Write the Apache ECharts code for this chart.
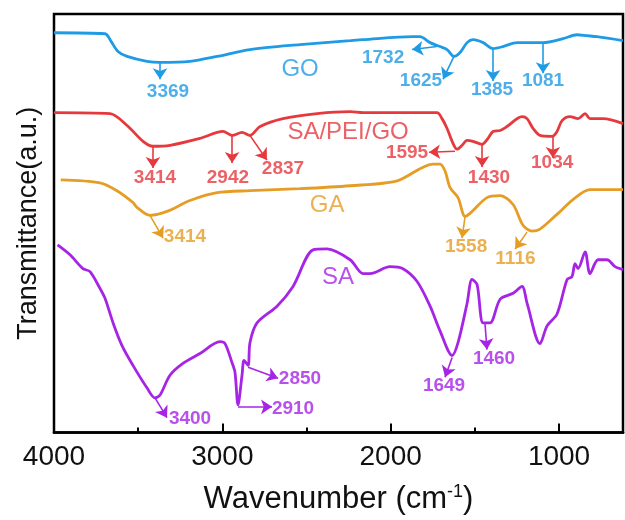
<!DOCTYPE html>
<html>
<head>
<meta charset="utf-8">
<script src="https://cdn.jsdelivr.net/npm/echarts@6/dist/echarts.min.js"></script>
<style>
  html, body { margin: 0; padding: 0; background: #fff; }
  #main { width: 625px; height: 520px; }
</style>
</head>
<body>
<div id="main"></div>
<script>
// wavenumber (cm-1) and transmittance (a.u.)
var goWn = [4000, 3697, 3660, 3620, 3566, 3447, 3370, 3192, 3032, 2836, 2539, 2241, 2164, 1867, 1826, 1766, 1707, 1665, 1624, 1588, 1546, 1511, 1451, 1392, 1333, 1249, 1172, 1095, 976, 893, 834, 774, 620];
var goT  = [405, 404, 396, 386, 381, 376, 375, 376, 381, 388, 393, 397, 398, 401, 401, 395, 391, 388, 381, 385, 395, 398, 395, 389, 391, 395, 395, 395, 399, 403, 402, 401, 397];

var spgWn = [4000, 3667, 3566, 3471, 3412, 3311, 3133, 2996, 2942, 2883, 2836, 2776, 2640, 2437, 2241, 2164, 1725, 1695, 1665, 1635, 1606, 1576, 1546, 1511, 1457, 1422, 1392, 1350, 1309, 1220, 1190, 1154, 1113, 1041, 1012, 982, 934, 887, 845, 816, 738, 620];
var spgT  = [324, 323, 311, 295, 290, 291, 298, 305, 301, 304, 301, 310, 318, 323, 325, 324, 324, 318, 308, 295, 287, 291, 296, 295, 292, 298, 305, 306, 310, 320, 318, 308, 301, 300, 305, 316, 320, 318, 323, 318, 318, 313];

var gaWn = [3960, 3727, 3626, 3531, 3507, 3430, 3329, 3192, 3032, 2836, 2539, 2241, 1962, 1748, 1707, 1677, 1647, 1600, 1558, 1529, 1428, 1350, 1273, 1214, 1160, 1113, 1012, 917, 816, 620];
var gaT  = [256, 253, 245, 233, 228, 220, 224, 235, 243, 245, 247, 250, 255, 272, 272, 265, 248, 238, 219, 222, 238, 240, 231, 210, 204, 206, 221, 236, 246, 246];

var saWn = [3979, 3905, 3828, 3786, 3727, 3697, 3649, 3596, 3531, 3447, 3400, 3370, 3311, 3234, 3133, 3014, 2984, 2943, 2925, 2907, 2883, 2871, 2847, 2836, 2794, 2675, 2580, 2461, 2378, 2241, 2164, 2123, 2004, 1927, 1843, 1766, 1707, 1635, 1600, 1546, 1517, 1487, 1451, 1410, 1350, 1273, 1220, 1190, 1113, 1071, 1012, 952, 923, 905, 887, 845, 816, 768, 715, 667, 620];
var saT  = [190, 180, 166, 163, 146, 136, 111, 88, 68, 45, 35, 38, 58, 70, 80, 92, 90, 71, 61, 28, 58, 73, 68, 91, 111, 128, 148, 185, 186, 175, 161, 161, 168, 166, 153, 128, 103, 78, 91, 131, 155, 150, 111, 111, 135, 141, 148, 131, 90, 108, 120, 155, 158, 171, 166, 183, 161, 175, 175, 168, 165];

var xLabels = [4000, 3000, 2000, 1000];
var xMinor = [3500, 2500, 1500];

// peak arrows: [fromWn, fromT, toWn, toT]; peak labels: [text, wn, t]
var goArrows = [[3370, 375, 3370, 358], [1725, 391, 1873, 388], [1624, 381, 1689, 358], [1392, 389, 1392, 356], [1095, 395, 1095, 364]];
var goLabels = [['3369', 3323, 345], ['1732', 2045, 380], ['1625', 1820, 356], ['1385', 1398, 347], ['1081', 1095, 356]];
var spgArrows = [[3412, 290, 3412, 268], [2942, 301, 2942, 273], [2836, 301, 2735, 276], [1618, 285, 1772, 284], [1457, 293, 1457, 269], [1036, 301, 1036, 278]];
var spgLabels = [['3414', 3400, 258], ['2942', 2967, 258], ['2837', 2640, 267], ['1595', 1903, 283], ['1430', 1416, 258], ['1034', 1041, 273]];
var gaArrows = [[3430, 220, 3352, 197], [1558, 219, 1576, 197], [1190, 203, 1261, 186]];
var gaLabels = [['3414', 3222, 198], ['1558', 1552, 188], ['1116', 1259, 176]];
var saArrows = [[3400, 35, 3329, 15], [2907, 26, 2705, 26], [2847, 66, 2669, 55], [1635, 76, 1677, 56], [1440, 111, 1428, 84]];
var saLabels = [['3400', 3192, 14], ['2910', 2580, 24], ['2850', 2539, 54], ['1649', 1683, 47], ['1460', 1386, 75]];

// curve names: [text, wn, t]
var names = [['GO', 2538, 368], ['SA/PEI/GO', 2253, 304], ['GA', 2378, 230], ['SA', 2313, 157]];

var colors = ['#1f9be6', '#e6393e', '#e69d25', '#a624e6'];
var font = 'Arial, "Liberation Sans", sans-serif';

function pairs(xs, ys) {
    return xs.map(function (x, i) { return [x, ys[i]]; });
}

var curves = [
    pairs(goWn, goT),
    pairs(spgWn, spgT),
    pairs(gaWn, gaT),
    pairs(saWn, saT)
];
var arrows = [goArrows, spgArrows, gaArrows, saArrows];
var labels = [goLabels, spgLabels, gaLabels, saLabels];

var series = [];
curves.forEach(function (d, i) {
    series.push({
        type: 'line',
        data: d,
        smooth: 0.3,
        symbol: 'none',
        lineStyle: { color: colors[i], width: 2.8 },
        z: 3
    });
    series.push({
        type: 'lines',
        coordinateSystem: 'cartesian2d',
        symbol: ['none', 'arrow'],
        symbolSize: 11,
        lineStyle: { color: colors[i], width: 1.6, opacity: 1 },
        data: arrows[i].map(function (a) {
            return { coords: [[a[0], a[1]], [a[2], a[3]]] };
        }),
        z: 4
    });
    series.push({
        type: 'scatter',
        symbolSize: 0.1,
        itemStyle: { color: 'transparent' },
        label: {
            show: true,
            position: 'inside',
            color: colors[i],
            fontFamily: font,
            fontWeight: 'bold',
            fontSize: 19,
            formatter: function (p) { return p.data.name; }
        },
        data: labels[i].map(function (l) { return { name: l[0], value: [l[1], l[2]] }; }),
        z: 5
    });
    series.push({
        type: 'scatter',
        symbolSize: 0.1,
        itemStyle: { color: 'transparent' },
        label: {
            show: true,
            position: 'inside',
            color: colors[i],
            fontFamily: font,
            fontSize: 24,
            formatter: function (p) { return p.data.name; }
        },
        data: [{ name: names[i][0], value: [names[i][1], names[i][2]] }],
        z: 5
    });
});

var chart = echarts.init(document.getElementById('main'));
chart.setOption({
    animation: false,
    backgroundColor: '#fff',
    grid: {
        left: 54, right: 2, top: 14, bottom: 82,
        show: true, borderColor: '#000', borderWidth: 2.5
    },
    xAxis: [{
        type: 'value',
        min: 620, max: 4000,
        inverse: true,
        name: 'Wavenumber (cm{sup|-1})',
        nameLocation: 'middle',
        nameGap: 51,
        nameTextStyle: {
            fontFamily: font, fontSize: 31, color: '#111',
            rich: { sup: { fontFamily: font, fontSize: 18, color: '#111', verticalAlign: 'top', padding: [0, 0, 14, 0] } }
        },
        axisLine: { lineStyle: { color: '#000', width: 2.5 } },
        axisTick: { inside: true, length: 9, lineStyle: { color: '#000', width: 2 }, customValues: xLabels },
        axisLabel: {
            fontFamily: font, fontSize: 28, color: '#111', margin: 11, customValues: xLabels,
            formatter: function (v) { return String(v); }
        },
        splitLine: { show: false }
    }, {
        type: 'value',
        min: 620, max: 4000,
        inverse: true,
        position: 'bottom',
        axisLine: { show: false },
        axisTick: { inside: true, length: 5, lineStyle: { color: '#000', width: 2 }, customValues: xMinor },
        axisLabel: { show: false },
        splitLine: { show: false }
    }],
    yAxis: {
        type: 'value',
        min: 0, max: 424,
        name: 'Transmittance(a.u.)',
        nameLocation: 'middle',
        nameGap: 12,
        nameTextStyle: { fontFamily: font, fontSize: 27, color: '#111' },
        axisLine: { show: false },
        axisTick: { show: false },
        axisLabel: { show: false },
        splitLine: { show: false }
    },
    series: series
});
</script>
</body>
</html>
